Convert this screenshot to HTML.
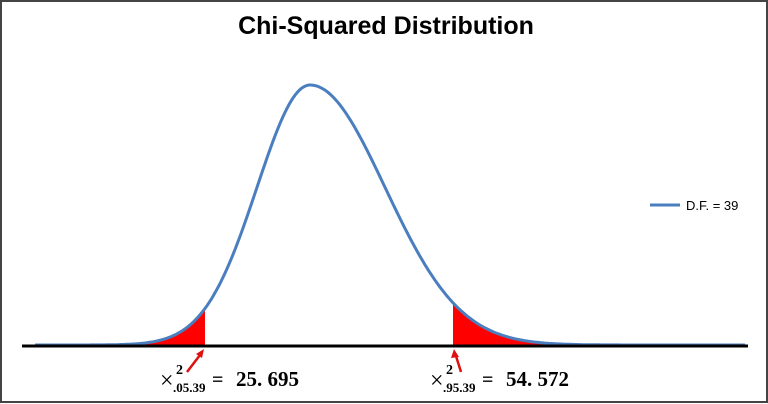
<!DOCTYPE html>
<html><head><meta charset="utf-8"><style>
html,body{margin:0;padding:0;background:#fff;}
body{width:768px;height:404px;overflow:hidden;position:relative;}
svg{position:absolute;left:0;top:0;}
</style></head><body>
<svg id="s" width="768" height="404" viewBox="0 0 768 404" xmlns="http://www.w3.org/2000/svg">
<rect x="1" y="1" width="766" height="401" fill="#fff" stroke="#444" stroke-width="2"/>
<text x="386" y="34" text-anchor="middle" font-family="Liberation Sans, sans-serif" font-weight="bold" font-size="25" fill="#000">Chi-Squared Distribution</text>
<path id="fillL" fill="#ff0000"/>
<path id="fillR" fill="#ff0000"/>
<path id="curve" fill="none" stroke="#4a7ebf" stroke-width="3"/>
<line x1="22" y1="346" x2="748" y2="346" stroke="#000" stroke-width="3"/>
<line x1="650" y1="205" x2="680" y2="205" stroke="#4a7ebf" stroke-width="3"/>
<text x="686" y="210" font-family="Liberation Sans, sans-serif" font-size="13" fill="#000">D.F. = 39</text>
<g font-family="Liberation Serif, serif" fill="#000">
<text x="160" y="388" font-size="24">×</text>
<text x="176" y="374" font-size="14" font-weight="bold">2</text>
<text x="173" y="392" font-size="13" font-weight="bold">.05.39</text>
<text x="212" y="386" font-size="20" font-weight="bold">=</text>
<text x="236" y="386" font-size="21" font-weight="bold">25. 695</text>
<text x="430" y="388" font-size="24">×</text>
<text x="446" y="374" font-size="14" font-weight="bold">2</text>
<text x="443" y="392" font-size="13" font-weight="bold">.95.39</text>
<text x="482" y="386" font-size="20" font-weight="bold">=</text>
<text x="506" y="386" font-size="21" font-weight="bold">54. 572</text>
</g>
<g stroke="#e01010" stroke-width="2.5" fill="#e01010">
<line x1="187" y1="372" x2="200" y2="355"/>
<polygon points="204,349 196,354 202,358" stroke="none"/>
<line x1="461" y1="372" x2="456" y2="356"/>
<polygon points="454,349 451,358 459,357" stroke="none"/>
</g>
</svg>
<script>
function f(x){var d=x-310,s=d<0?53:75;return 345-260*Math.exp(-d*d/(2*s*s));}
var p="",i;
for(i=35;i<=745;i+=2){p+=(i==35?"M":"L")+i+","+f(i).toFixed(1);}
document.getElementById("curve").setAttribute("d",p);
var l="M35,345";for(i=35;i<=205;i++)l+="L"+i+","+f(i).toFixed(1);l+="L205,345Z";
document.getElementById("fillL").setAttribute("d",l);
var r="M453,345";for(i=453;i<=745;i++)r+="L"+i+","+f(i).toFixed(1);r+="L745,345Z";
document.getElementById("fillR").setAttribute("d",r);
</script>
</body></html>
